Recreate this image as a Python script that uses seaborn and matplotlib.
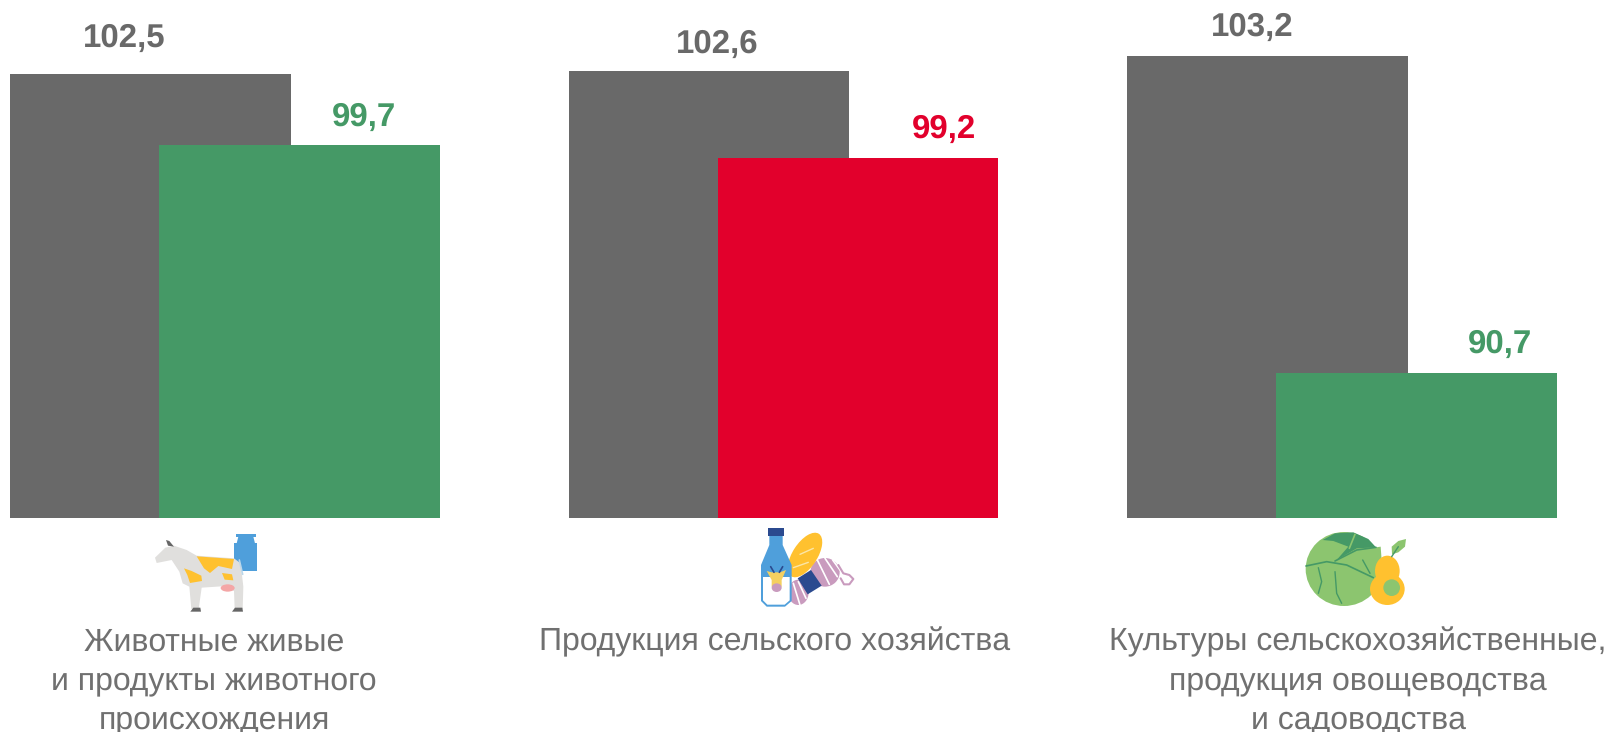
import numpy as np
import pandas as pd
import matplotlib
matplotlib.use("Agg")
import matplotlib.pyplot as plt
from matplotlib.patches import Polygon, Ellipse
import seaborn as sns

# ---------- DATA ----------
positions = [0, 1, 2]
categories = [
    "Животные живые\nи продукты животного\nпроисхождения",
    "Продукция сельского хозяйства",
    "Культуры сельскохозяйственные,\nпродукция овощеводства\nи садоводства",
]
prev_values = [102.5, 102.6, 103.2]
curr_values = [99.7, 99.2, 90.7]

# ---------- STYLE ----------
GRAY = "#696969"
GREEN = "#459966"
RED = "#E2002C"
TEXT = "#707070"
curr_colors = [GREEN, RED, GREEN]
# label offsets from the bar top, pixels (the source places them by hand)
prev_offsets = [(-26, 36), (8, 27), (-15, 29)]
curr_offsets = [(64, 28), (86, 28), (83, 29)]
cat_centers = [214, 775, 1358]
STEP = 558.5
LEFT = 150.5
BAR_W = 280.5 / STEP
SHIFT = 149 / STEP

sns.set_theme(style="white")
plt.rcParams["font.family"] = ["Liberation Sans", "DejaVu Sans"]
plt.rcParams["text.hinting"] = "no_hinting"
plt.rcParams["text.hinting_factor"] = 1

fig = plt.figure(figsize=(16.06, 7.32), dpi=100)
ax = fig.add_axes([0, 1 - 518 / 732, 1, 518 / 732])

prev_df = pd.DataFrame({"x": positions, "value": prev_values})
curr_df = pd.DataFrame({"x": [p + SHIFT for p in positions], "value": curr_values,
                        "cat": categories})

sns.barplot(data=prev_df, x="x", y="value", native_scale=True, color=GRAY,
            saturation=1, width=BAR_W, linewidth=0, ax=ax)
sns.barplot(data=curr_df, x="x", y="value", hue="cat", palette=curr_colors,
            native_scale=True, dodge=False, saturation=1, width=BAR_W,
            linewidth=0, legend=False, ax=ax)

ax.set_xlim(-LEFT / STEP, (1606 - LEFT) / STEP)
ax.set_ylim(85, 85 + 518 / 25.37)
ax.axis("off")


def value_label(x, v, off, color):
    ax.annotate(f"{v:.1f}".replace(".", ","), (x, v), xytext=off,
                textcoords="offset pixels", ha="center", va="center",
                fontsize=23.5, fontweight="bold", color=color, annotation_clip=False)


for i, p in enumerate(positions):
    value_label(p, prev_values[i], prev_offsets[i], GRAY)
    value_label(p + SHIFT, curr_values[i], curr_offsets[i], curr_colors[i])

# overlay in pixel coordinates for captions and icons
ov = fig.add_axes([0, 0, 1, 1])
ov.set_xlim(0, 1606)
ov.set_ylim(732, 0)
ov.axis("off")
ov.patch.set_alpha(0)

for cx, cat in zip(cat_centers, categories):
    for k, txt in enumerate(cat.split("\n")):
        ov.text(cx, 642 + k * 39, txt, ha="center", va="center",
                fontsize=23, color=TEXT)


def to_px(pts, ox, oy):
    # zoom crop coordinates (3x) to figure pixels
    return [(ox + x / 3, oy + y / 3) for x, y in pts]


def poly(pts, ox, oy, color):
    ov.add_patch(Polygon(to_px(pts, ox, oy), closed=True, fc=color, ec="none"))


def ell(cx, cy, w, h, ox, oy, color, angle=0):
    ov.add_patch(Ellipse((ox + cx / 3, oy + cy / 3), w / 3, h / 3, angle=angle,
                         fc=color, ec="none"))


def line(pts, ox, oy, color, lw=1.0):
    p = to_px(pts, ox, oy)
    ov.plot([a for a, _ in p], [b for _, b in p], color=color, lw=lw,
            solid_capstyle="round")


# cow and milk can
ox, oy = 130, 515
BLUE = "#4F9FDB"
YEL = "#FFC12F"
poly([(313, 85), (380, 85), (380, 167), (313, 167)], ox, oy, BLUE)
poly([(325, 65), (370, 65), (375, 85), (320, 85)], ox, oy, BLUE)
poly([(318, 56), (378, 56), (378, 65), (318, 65)], ox, oy, BLUE)
poly([(75, 128), (106, 98), (132, 92), (170, 105), (200, 122), (312, 130), (332, 145),
      (340, 215), (338, 282), (314, 282), (312, 228), (275, 214), (215, 218), (206, 282),
      (184, 282), (178, 215), (158, 205), (148, 170), (125, 135), (80, 144)],
     ox, oy, "#E0DFDD")
poly([(108, 75), (118, 78), (132, 95), (114, 92)], ox, oy, "#666666")
poly([(200, 124), (312, 132), (306, 162), (265, 153), (240, 174), (222, 160)], ox, oy, YEL)
poly([(162, 160), (185, 168), (214, 182), (216, 198), (180, 204), (172, 180)], ox, oy, YEL)
poly([(276, 174), (306, 178), (310, 196), (284, 194)], ox, oy, YEL)
ell(293, 219, 42, 22, ox, oy, "#F4A6A6")
poly([(181, 290), (190, 278), (211, 278), (213, 290)], ox, oy, "#666666")
poly([(306, 290), (315, 278), (337, 278), (339, 290)], ox, oy, "#666666")
line([(328, 135), (338, 178)], ox, oy, "#BBD7EA", 1.2)

# bottle, baguette, yarn
ox, oy = 730, 515
PINK = "#C99BBE"
NAVY = "#2B4A8F"
ell(285, 172, 88, 86, ox, oy, PINK)
ell(205, 232, 62, 76, ox, oy, PINK)
for a, b in [((262, 135), (298, 208)), ((285, 130), (322, 185)), ((308, 135), (330, 165)),
             ((190, 205), (210, 270)), ((205, 200), (228, 250))]:
    line([a, b], ox, oy, "white", 1.2)
line([(325, 150), (340, 175), (358, 180), (370, 192), (358, 208), (342, 208), (332, 190)],
     ox, oy, PINK, 1.5)
ell(225, 120, 74, 152, ox, oy, YEL, angle=33)
line([(210, 118), (250, 100)], ox, oy, "#FBE6A8", 1.0)
line([(190, 158), (235, 142)], ox, oy, "#FBE6A8", 1.0)
poly([(243, 165), (275, 212), (233, 238), (203, 190)], ox, oy, NAVY)
poly([(118, 62), (158, 62), (158, 90), (185, 150), (185, 258), (165, 275), (110, 275),
      (93, 258), (93, 150), (118, 90)], ox, oy, BLUE)
poly([(99, 186), (179, 186), (179, 256), (164, 269), (112, 269), (99, 256)], ox, oy, "white")
poly([(113, 40), (163, 40), (163, 62), (113, 62)], ox, oy, NAVY)
poly([(110, 168), (125, 172), (150, 172), (168, 165), (155, 195), (155, 215), (125, 215),
      (125, 195)], ox, oy, "#F5D060")
ell(140, 218, 30, 26, ox, oy, PINK)
line([(122, 155), (132, 172)], ox, oy, NAVY, 1.2)
line([(158, 155), (148, 172)], ox, oy, NAVY, 1.2)

# cabbage and pear
ox, oy = 1290, 515
LEAF = "#8CC56F"
ell(162, 162, 230, 222, ox, oy, LEAF)
poly([(98, 75), (135, 55), (190, 52), (235, 72), (258, 97), (200, 100), (140, 135),
      (175, 95), (130, 78)], ox, oy, GREEN)
poly([(135, 138), (200, 105), (272, 95), (276, 150), (250, 190), (170, 150)], ox, oy, LEAF)
line([(48, 153), (110, 140), (170, 150), (250, 188)], ox, oy, GREEN, 1.2)
line([(135, 138), (200, 105), (258, 97)], ox, oy, GREEN, 1.2)
line([(178, 100), (195, 58)], ox, oy, LEAF, 1.2)
line([(218, 135), (240, 175)], ox, oy, GREEN, 1.0)
line([(135, 170), (140, 235), (155, 265)], ox, oy, GREEN, 1.0)
line([(85, 158), (95, 200), (85, 235)], ox, oy, GREEN, 1.0)
ell(292, 168, 74, 92, ox, oy, YEL)
ell(292, 222, 104, 96, ox, oy, YEL)
ell(305, 218, 50, 50, ox, oy, LEAF)
poly([(306, 118), (305, 95), (325, 78), (348, 72), (345, 95), (325, 112)], ox, oy, LEAF)
line([(305, 125), (325, 95)], ox, oy, GREEN, 1.0)

fig.savefig("out.png", dpi=100, facecolor="white")
